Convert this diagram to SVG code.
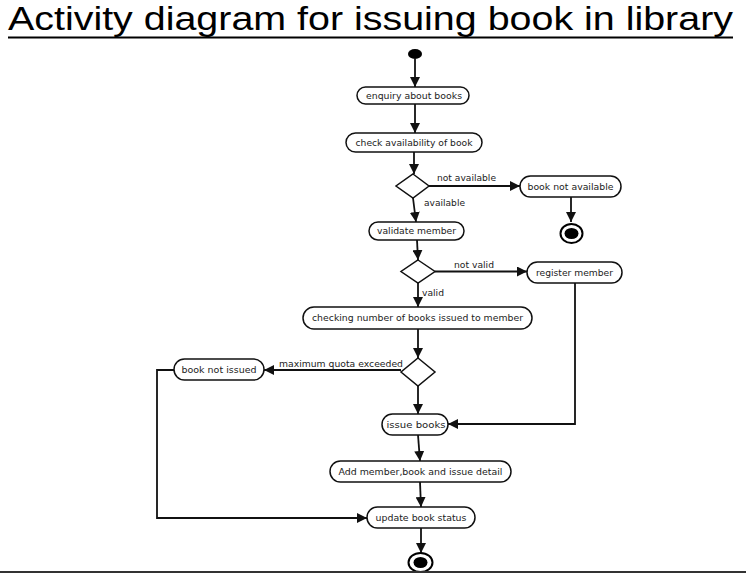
<svg xmlns="http://www.w3.org/2000/svg" width="746" height="574" viewBox="0 0 746 574">
<style>
.node rect{fill:#fff;stroke:#111;stroke-width:1.5}
.node text,.lbl{font-family:"DejaVu Sans",sans-serif;font-size:8.3px;fill:#222}
.node text{text-anchor:middle}
.dia polygon{fill:#fff;stroke:#111;stroke-width:1.5}
.edges path{fill:none;stroke:#111;stroke-width:1.8}
.title{font-family:"Liberation Sans","Open Sans",sans-serif;font-size:33px;fill:#000}
</style>
<defs>
<marker id="ah" markerUnits="userSpaceOnUse" markerWidth="10" markerHeight="10" viewBox="0 0 10 10" refX="10" refY="5" orient="auto">
<path d="M0,0 L10,5 L0,10 z" fill="#111"/>
</marker>
</defs>
<rect width="746" height="574" fill="#fff"/>
<g id="title">
<text class="title" x="8" y="30" textLength="725" lengthAdjust="spacingAndGlyphs">Activity diagram for issuing book in library</text>
<line x1="8" y1="37.5" x2="733" y2="37.5" stroke="#000" stroke-width="2.2"/>
</g>
<g class="edges" id="edges">
<path d="M415,59 L415,87" marker-end="url(#ah)"/>
<path d="M415,104 L415,133" marker-end="url(#ah)"/>
<path d="M414,152 L414,174" marker-end="url(#ah)"/>
<path d="M429,186 L520,186" marker-end="url(#ah)"/>
<path d="M571,197 L571,222" marker-end="url(#ah)"/>
<path d="M413,198 L416,222" marker-end="url(#ah)"/>
<path d="M417,240 L418,260" marker-end="url(#ah)"/>
<path d="M435,271.5 L527,271.5" marker-end="url(#ah)"/>
<path d="M575,283 L575,424 L448,424" marker-end="url(#ah)"/>
<path d="M418,283 L418,307" marker-end="url(#ah)"/>
<path d="M418,329 L418,358" marker-end="url(#ah)"/>
<path d="M401,370 L264,370" marker-end="url(#ah)"/>
<path d="M174,370 L157,370 L157,518 L367,518" marker-end="url(#ah)"/>
<path d="M418,386 L418,414" marker-end="url(#ah)"/>
<path d="M418,435 L420,461" marker-end="url(#ah)"/>
<path d="M420,482 L421,507" marker-end="url(#ah)"/>
<path d="M421,528 L421,553" marker-end="url(#ah)"/>
</g>
<g id="labels">
<text class="lbl" x="437" y="181" textLength="59" lengthAdjust="spacingAndGlyphs">not available</text>
<text class="lbl" x="424" y="206" textLength="41" lengthAdjust="spacingAndGlyphs">available</text>
<text class="lbl" x="454" y="268" textLength="40" lengthAdjust="spacingAndGlyphs">not valid</text>
<text class="lbl" x="422" y="296" textLength="22" lengthAdjust="spacingAndGlyphs">valid</text>
<text class="lbl" x="279" y="367" textLength="124" lengthAdjust="spacingAndGlyphs">maximum quota exceeded</text>
</g>
<g id="start"><ellipse cx="415" cy="54" rx="7" ry="5" fill="#000"/></g>
<g class="node" id="enquiry"><rect x="357" y="87" width="112" height="17" rx="8.5"/><text x="414" y="98.5" textLength="96" lengthAdjust="spacingAndGlyphs">enquiry about books</text></g>
<g class="node" id="check"><rect x="346" y="133" width="136" height="19" rx="9.5"/><text x="414" y="145.5" textLength="117" lengthAdjust="spacingAndGlyphs">check availability of book</text></g>
<g class="dia" id="decision1"><polygon points="413,174 429,186 413,198 396,186"/></g>
<g class="node" id="notavail"><rect x="520" y="176" width="101" height="21" rx="10.5"/><text x="570.5" y="189.5" textLength="86" lengthAdjust="spacingAndGlyphs">book not available</text></g>
<g id="end1"><ellipse cx="571.5" cy="233.5" rx="11" ry="9.5" fill="#fff" stroke="#000" stroke-width="2"/><ellipse cx="571.5" cy="233.5" rx="7" ry="5.5" fill="#000"/></g>
<g class="node" id="validate"><rect x="369" y="222" width="95" height="18" rx="9"/><text x="416.5" y="234" textLength="79" lengthAdjust="spacingAndGlyphs">validate member</text></g>
<g class="dia" id="decision2"><polygon points="418,260 435,271.5 418,283 401,271.5"/></g>
<g class="node" id="register"><rect x="527" y="262" width="95" height="21" rx="10.5"/><text x="574.5" y="275.5" textLength="77" lengthAdjust="spacingAndGlyphs">register member</text></g>
<g class="node" id="checking"><rect x="303" y="307" width="229" height="22" rx="11"/><text x="417.5" y="321" textLength="211" lengthAdjust="spacingAndGlyphs">checking number of books issued to member</text></g>
<g class="dia" id="decision3"><polygon points="418,358 435,372 418,386 401,372"/></g>
<g class="node" id="notissued"><rect x="174" y="359" width="90" height="21" rx="10.5"/><text x="219" y="372.5" textLength="75" lengthAdjust="spacingAndGlyphs">book not issued</text></g>
<g class="node" id="issue"><rect x="382" y="414" width="66" height="21" rx="10.5"/><text x="416" y="427.5" textLength="59" lengthAdjust="spacingAndGlyphs">issue books</text></g>
<g class="node" id="addmember"><rect x="330" y="461" width="181" height="21" rx="10.5"/><text x="420.5" y="474.5" textLength="164" lengthAdjust="spacingAndGlyphs">Add member,book and issue detail</text></g>
<g class="node" id="update"><rect x="367" y="507" width="108" height="21" rx="10.5"/><text x="421" y="520.5" textLength="91" lengthAdjust="spacingAndGlyphs">update book status</text></g>
<g id="end2"><ellipse cx="420.5" cy="562.5" rx="12" ry="9.5" fill="#fff" stroke="#000" stroke-width="2"/><ellipse cx="420.5" cy="562.5" rx="7" ry="5.5" fill="#000"/></g>
<line x1="0" y1="572" x2="746" y2="572" stroke="#333" stroke-width="2.2"/>
</svg>
